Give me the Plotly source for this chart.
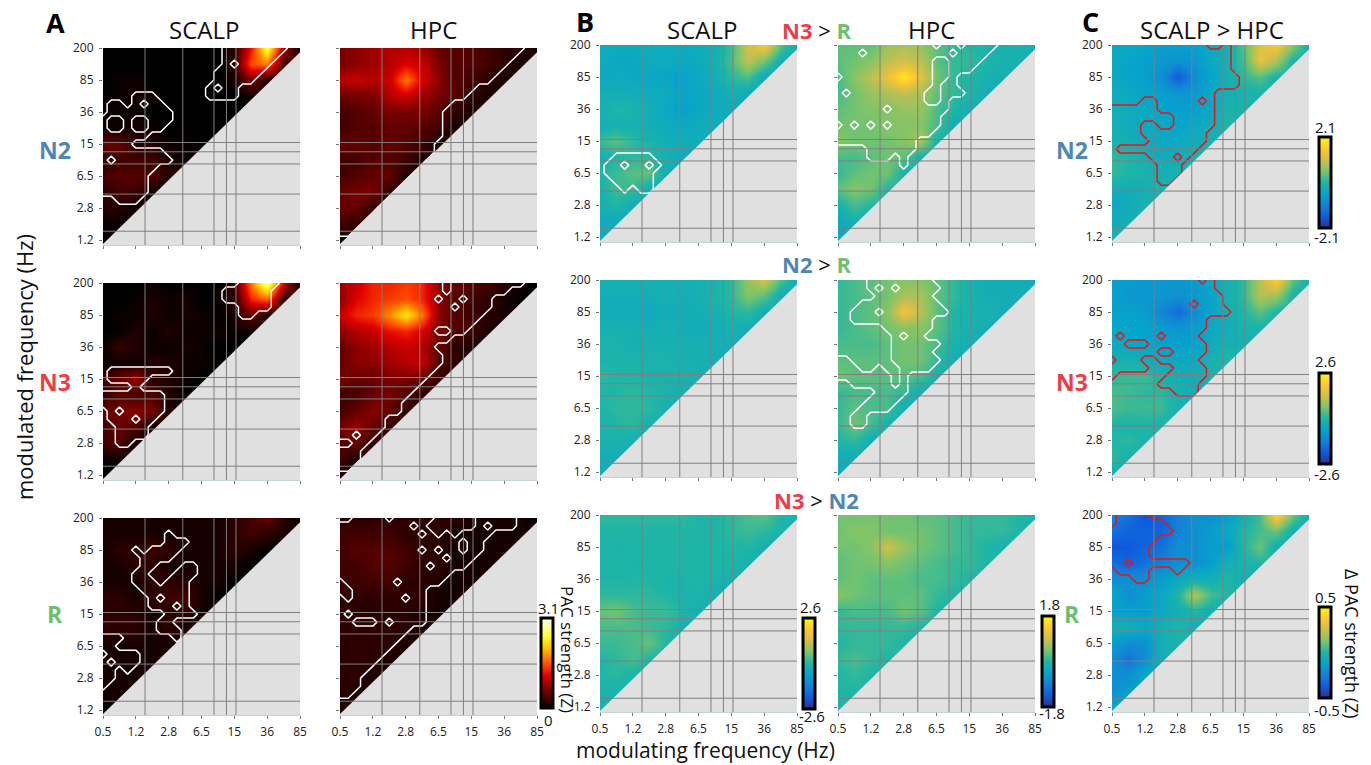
import numpy as np
import plotly.graph_objects as go

# ---------- axis labels ----------
x_tick_labels = ["0.5", "1.2", "2.8", "6.5", "15", "36", "85"]
y_tick_labels = ["1.2", "2.8", "6.5", "15", "36", "85", "200"]
grid_x = [1.28, 2.43, 3.38, 3.76, 4.05]
grid_y = [3.05, 2.76, 2.38, 1.44, 0.28]

# ---------- heat values: rows from top (200 Hz) to bottom, columns every half tick ----------
A_N2_scalp = [
 [0,0,0,0,0,0,0,0,.2,1.2,2.6,.8,0],[0,0,0,0,0,0,0,0,.2,1.5,1.7,.3],[0,.05,.05,0,0,0,0,0,.1,.6,.1],
 [0,.05,.1,.05,0,0,0,0,0,.05],[.05,.05,.05,0,0,0,0,0,0],[.05,.05,.1,.05,0,0,0,0],[.5,.5,.2,.15,.05,.05,0],
 [.2,.3,.3,.3,.15,.05],[.3,.4,.4,.4,.15],[.2,.3,.3,.05],[.15,.15,.05],[.05,.05],[0]]
A_N2_hpc = [
 [.6,.7,.8,.9,.9,.8,.5,.4,.4,.3,.2,.2,.1],[.6,.7,.8,.9,1.1,1,.6,.4,.4,.3,.2,.1],[.9,1,.9,1,1.7,1.1,.7,.4,.3,.2,.1],
 [.5,.6,.6,.9,1,.8,.6,.4,.2,.1],[.3,.4,.5,.6,.6,.6,.4,.2,.1],[.3,.4,.4,.5,.5,.4,.3,.1],[.5,.5,.4,.5,.4,.3,.1],
 [.3,.3,.4,.4,.3,.1],[.3,.4,.5,.5,.1],[.5,.6,.6,.2],[.5,.5,.2],[.3,.2],[.1]]
A_N3_scalp = [
 [0,0,0,.05,0,0,0,0,.3,1.7,2.9,1,0],[0,0,.05,.1,.05,.1,0,.05,.2,1.3,1.6,.2],[0,.05,.05,.15,.05,.1,.05,0,.1,.5,.1],
 [0,0,.15,.05,.15,.05,.05,.05,.05,.05],[.05,.25,.15,.05,.05,.1,.05,0,0],[.05,.05,.05,.15,.15,.05,.05,0],[.3,.5,.8,.2,.15,.05,0],
 [.2,.4,.3,.4,.15,.05],[.5,.6,.7,.6,.1],[.3,.5,.4,.05],[.3,.4,.05],[.05,.05],[0]]
A_N3_hpc = [
 [.8,1,1.3,1.3,1.4,1.3,.7,.5,.4,.3,.2,.1,0],[.7,1.1,1.3,1.4,1.5,1.3,.7,.4,.3,.2,.1,0],[1,1.3,1.4,1.8,2.3,1.7,.7,.4,.3,.2,.1],
 [.7,.9,1,1.2,1.3,1.1,.6,.4,.3,.1],[.5,.7,.8,.9,1,.9,.5,.2,.1],[.5,.7,.7,.8,.9,1,.4,.2],[.6,.5,.5,.6,.6,.5,.2],
 [.3,.3,.5,.6,.4,.2],[.3,.5,.7,.5,.2],[.6,.8,.5,.2],[.4,.5,.2],[.3,.1],[.1]]
A_R_scalp = [
 [.1,.1,.1,.1,.1,.1,.1,.1,.2,.3,.5,.2,0],[.1,.1,.1,.1,.1,.1,.1,.1,.2,.3,.2,.1],[.1,.2,.2,.3,.2,.1,.1,.1,.2,.1,0],
 [.1,.1,.2,.2,.1,.1,.1,.1,.1,0],[.1,.1,.1,.2,.2,.2,.1,.1,0],[.2,.2,.1,.2,.3,.3,.1,0],[.2,.2,.2,.1,.2,.2,.1],
 [.2,.2,.2,.1,.2,.1],[.1,.1,.1,.1,.1],[.1,.1,.1,.1],[.1,.1,.1],[.1,.1],[0]]
A_R_hpc = [
 [.2,.2,.2,.2,.2,.2,.2,.2,.1,.1,.1,.1,0],[.3,.3,.3,.3,.2,.2,.2,.1,.1,.1,.1,.1],[.3,.4,.4,.4,.3,.2,.2,.1,.1,.1,.1],
 [.3,.3,.4,.4,.3,.2,.2,.1,.1,.1],[.3,.3,.3,.3,.2,.2,.1,.1,.1],[.2,.2,.2,.2,.2,.2,.1,.1],[.2,.2,.2,.2,.2,.1,.1],
 [.2,.2,.2,.2,.2,.1],[.2,.2,.2,.2,.1],[.2,.2,.2,.1],[.2,.2,.1],[.2,.1],[.1]]
B_N3R_scalp = [
 [-.4,-.4,-.4,-.4,-.4,-.4,-.4,-.3,.2,1.3,1.9,.4,-.4],[-.4,-.5,-.5,-.4,-.4,-.5,-.4,-.2,.3,1.2,.6,-.3],[-.5,-.4,-.5,-.5,-.6,-.7,-.5,-.3,.1,.3,-.4],
 [-.3,-.3,-.3,-.4,-.4,-.6,-.5,-.4,-.2,-.4],[-.2,0,-.1,-.3,-.5,-.7,-.5,-.4,-.4],[-.3,-.2,-.2,-.3,-.4,-.5,-.4,-.4],[.2,.4,.1,-.1,-.3,-.3,-.4],
 [-.2,0,.1,.1,-.2,-.4],[0,.2,.4,.5,-.3],[-.1,.2,.2,-.3],[-.2,0,-.3],[-.4,-.4],[-.4]]
B_N3R_hpc = [
 [.3,.3,.3,.6,.7,.6,.3,.1,0,-.1,-.1,-.1,-.2],[.3,.4,.5,.8,.9,.8,.3,.1,.1,0,-.1,-.1],[.2,.5,.8,1.1,1.7,1.1,.4,.1,0,-.1,-.2],
 [.2,.4,.6,.7,.8,.7,.3,.1,0,-.2],[.3,.4,.5,.5,.6,.6,.2,0,-.2],[.4,.4,.4,.5,.5,.5,.2,-.2],[.5,.4,.4,.4,.5,.7,-.1],
 [.2,.2,.3,.4,.3,-.1],[.1,.3,.4,.4,-.1],[.3,.5,.4,0],[-.1,.2,0],[-.3,-.1],[-.3]]
B_N2R_scalp = [
 [-.2,-.2,-.2,-.2,-.2,-.2,-.2,-.1,.1,.8,1.4,.3,-.3],[-.3,-.3,-.3,-.3,-.2,-.3,-.2,-.1,.1,.7,.4,-.3],[-.3,-.3,-.3,-.4,-.3,-.3,-.3,-.2,0,.1,-.3],
 [-.2,-.2,-.2,-.3,-.2,-.3,-.3,-.3,-.2,-.3],[-.1,-.1,-.2,-.2,-.2,-.2,-.2,-.2,-.3],[-.1,-.1,-.1,-.1,-.1,-.2,-.2,-.3],[.1,0,0,-.1,-.1,-.1,-.2],
 [0,0,.1,0,-.1,-.2],[0,.1,.1,.1,-.2],[-.1,0,.1,-.2],[-.1,-.1,-.2],[-.3,-.3],[-.3]]
B_N2R_hpc = [
 [.1,.2,.3,.4,.5,.5,.3,.1,-.1,-.2,-.2,-.2,-.3],[.1,.2,.3,.4,.7,.7,.3,.1,-.1,-.2,-.2,-.2],[.1,.2,.3,.5,1.2,.8,.3,0,-.1,-.1,-.2],
 [.1,.2,.3,.4,.5,.5,.3,0,-.1,-.2],[.2,.2,.2,.3,.4,.4,.2,-.1,-.2],[.3,.3,.3,.3,.4,.4,.1,-.2],[.4,.3,.3,.3,.3,.2,-.1],
 [.1,.2,.2,.2,.1,-.2],[.1,.3,.2,.2,-.2],[.1,.4,.2,-.1],[0,.1,-.2],[-.2,-.2],[-.3]]
B_N3N2_scalp = [
 [.1,.1,.1,.1,.1,.1,0,0,.1,.3,.4,0,-.2],[0,0,0,0,0,0,0,0,.1,.2,.1,-.1],[0,-.1,0,0,0,0,0,0,0,0,-.2],
 [0,0,-.1,0,0,0,0,0,0,-.2],[0,0,0,0,-.1,-.1,0,-.1,-.2],[.1,.1,.1,.1,0,-.1,-.1,-.2],[.5,.6,.3,.2,.2,0,-.2],
 [.3,.3,.3,.2,.1,-.2],[.2,.2,.3,.5,0],[0,.1,.3,0],[0,.1,-.1],[-.1,-.1],[-.2]]
B_N3N2_hpc = [
 [.4,.4,.4,.4,.4,.3,.3,.2,.1,.1,.1,0,-.1],[.4,.5,.5,.4,.4,.4,.3,.2,.1,.1,.1,0],[.4,.4,.5,.9,.6,.4,.3,.2,.1,0,-.1],
 [.3,.4,.4,.5,.4,.3,.2,.1,.1,0],[.3,.4,.3,.3,.3,.2,.2,.1,0],[.5,.4,.3,.3,.3,.3,.1,0],[.1,.2,.2,.2,.4,.3,0],
 [.1,.1,.1,.1,.1,0],[0,.1,.1,.1,0],[.1,.2,.1,0],[0,.1,0],[0,0],[0]]
C_N2 = [
 [-.4,-.4,-.5,-.6,-.6,-.6,-.4,-.2,.3,1.2,1.5,.6,-.2],[-.4,-.5,-.6,-.7,-.8,-.7,-.4,-.2,.2,1.3,.8,-.1],[-.4,-.5,-.6,-.8,-1.6,-.9,-.5,-.2,.1,.3,-.1],
 [-.3,-.4,-.5,-.6,-.7,-.7,-.4,-.2,-.1,-.1],[-.2,-.3,-.4,-.5,-.6,-.6,-.4,-.1,-.1],[-.2,-.3,-.4,-.4,-.5,-.4,-.3,0],[-.1,-.2,-.3,-.4,-.4,-.3,-.1],
 [.1,0,-.2,-.3,-.3,-.1],[.1,0,-.1,-.2,-.1],[-.2,-.3,-.2,-.1],[-.4,-.3,-.1],[-.3,-.2],[-.1]]
C_N3 = [
 [-.7,-.8,-.9,-.9,-.9,-.8,-.6,-.2,.1,1.1,2,.4,-.2],[-.7,-.9,-.9,-.9,-1,-.9,-.6,-.2,.1,1.1,.9,-.1],[-.7,-.7,-.8,-1.2,-1.7,-1.1,-.6,-.3,0,.4,-.1],
 [-.6,-.6,-.7,-.8,-.9,-.8,-.5,-.3,-.1,-.1],[-.5,-.5,-.6,-.7,-.7,-.7,-.4,-.2,-.2],[-.2,-.2,-.3,-.5,-.5,-.5,-.2,0],[.1,.2,.2,-.1,-.3,-.3,-.1],
 [.3,.2,.1,.1,-.2,-.3],[.3,.2,.2,.2,-.2],[0,-.1,0,-.1],[0,.1,-.1],[.1,-.1],[-.2]]
C_R = [
 [-.25,-.3,-.4,-.35,-.25,-.2,-.2,-.15,-.05,.05,.4,.1,-.05],[-.3,-.35,-.35,-.35,-.25,-.2,-.15,-.1,0,.05,.1,-.05],[-.4,-.38,-.35,-.3,-.2,-.2,-.15,-.15,0,.1,-.05],
 [-.3,-.35,-.3,-.25,-.2,-.2,-.15,-.05,-.02,0],[-.2,-.2,-.2,-.15,-.1,-.05,-.05,0,-.05],[-.1,-.2,-.15,-.1,0,.2,.05,0],[-.15,-.15,-.15,-.1,-.05,0,-.05],
 [-.05,-.05,-.1,-.05,0,-.05],[-.15,-.2,-.2,-.05,-.02],[-.2,-.3,-.2,-.05],[-.2,-.2,-.1],[-.2,-.15],[-.1]]

# ---------- significance maps: rows from top, columns every quarter tick ----------
sig_A_N2_scalp = ["...............########","...............#######","...............#.####","..............######","..............#####",
 ".............#.##","....###......####",".##.#.##",".########","#..#..###","#..#..##","######","####","########","#.#######","#######",
 "######","######","######","..###"]
sig_A_N2_hpc = ["#"*23,"#"*22,"#"*21,"#"*20,"#"*19,"#"*17,"#"*16,"#"*14,"#"*13,"#"*13,"#"*13,"#"*13,"#"*12,"#"*12,"#"*11,"#"*10,"#"*9,"#"*8,"#"*7,"#"*6,"#"*5,"#"*4,"###","##"]
sig_A_N3_scalp = [".................#####","...............######","...............######",".................####",".................##",
 "","","","","","",".########",".#####","....#","########","########",".#.#####",".###.##","..####","..####","..##"]
sig_A_N3_hpc = ["#############.#########","#############.#######","############.##.###","##############.####","#"*18,"#"*17,"############..##","#"*14,"#"*12,"#"*13,"#"*13,
 "#"*12,"#"*11,"#"*10,"#"*9,"#"*8,"#"*8,"#"*6,"#"*6,"##.##","..##","###","###","##"]
sig_A_R_scalp = ["","","........#","........###","....#.####",".....####",".....##...##","....##...###","....###.###",".....######","......#.###",
 "......###.#","........####",".......##",".......###","###......#","##",".####","#.###","##.#","##","#"]
sig_A_R_hpc = ["..####.#####.....#####","#########.#......#.###","##########.#.#.####","###############.##","##########.#.##.##","#############.###","###########.####",
 "##############",".######.#####","..#########","#.######.##","###########","#.#########","##...#.####","#########","########","#######","######","#####","####","###","###","##","."]
sig_B_N3R_scalp = [""]*14 + ["..#####",".##.##.#",".######","..#####","...#.##"]
sig_B_N3R_hpc = ["############.##.####","###.##########.####","############..####","############..###",".###########..#","############.##","#.#########..###","###########..#",
 "######.#######","#############",".#.#.#.######","############","##########","....######","....###.#","........#"]
sig_B_N2R_hpc = ["....########","....#.#.#####",".....#######","...##########","..###.########","..##########","......######",".......#.##",".......######",
 ".......#####","##.....######","###..#..####","#######.#","..#####.#",".....####","....####","...####","..##","..##"]
sig_C_N2 = ["############..#","###############","###############","###############","################","################","#############","####..#####.#",
 "......#######","........#####","....##..#####","....########",".....#######",".##########",".....###.#","......###","......###","......##"]
sig_C_N3 = ["###########.#","#############","##############","##########.###","###############","############","############","#.####.####","##...#######",
 "######..####",".###..#####","#####...####","#......#####","......#####","........###"]
sig_C_R = [".####",".######","########","######","#####","#####","##.#######",".####...#","...##"]

hot = [[0,"#000000"],[.04,"#1c0000"],[.1,"#420000"],[.2,"#7a0000"],[.36,"#e00000"],[.48,"#ff4a00"],[.66,"#ffc000"],[.8,"#ffff30"],[1,"#ffffff"]]
parula = [[0,"#352a87"],[.125,"#0f5cdd"],[.25,"#1481d6"],[.375,"#06a4ca"],[.5,"#1fb5a6"],[.625,"#7cc46a"],[.75,"#d1bf4a"],[.875,"#fec832"],[1,"#f9fb0e"]]

W, H = 1371, 765
BOX_W, BOX_H = 197, 197
cols = {"a1":103,"a2":340,"b1":600,"b2":838,"c":1112}
tops_a = [48,283,518]
tops_b = [45,280,515]

# panel: column, row, values, zmax, scale, sig, sig colour, colorbar (x, y top, len)
panels = [
 ("a1",0,A_N2_scalp,3.1,hot,sig_A_N2_scalp,"white",None),
 ("a2",0,A_N2_hpc,3.1,hot,sig_A_N2_hpc,"white",None),
 ("a1",1,A_N3_scalp,3.1,hot,sig_A_N3_scalp,"white",None),
 ("a2",1,A_N3_hpc,3.1,hot,sig_A_N3_hpc,"white",None),
 ("a1",2,A_R_scalp,3.1,hot,sig_A_R_scalp,"white",None),
 ("a2",2,A_R_hpc,3.1,hot,sig_A_R_hpc,"white",(541,618,90)),
 ("b1",0,B_N3R_scalp,2.6,parula,sig_B_N3R_scalp,"white",None),
 ("b2",0,B_N3R_hpc,1.8,parula,sig_B_N3R_hpc,"white",None),
 ("b1",1,B_N2R_scalp,2.6,parula,None,"white",None),
 ("b2",1,B_N2R_hpc,1.8,parula,sig_B_N2R_hpc,"white",None),
 ("b1",2,B_N3N2_scalp,2.6,parula,None,"white",(803,618,91)),
 ("b2",2,B_N3N2_hpc,1.8,parula,None,"white",(1042,616,91)),
 ("c",0,C_N2,2.1,parula,sig_C_N2,"#e8141c",(1319,137,91)),
 ("c",1,C_N3,2.6,parula,sig_C_N3,"#e8141c",(1319,373,91)),
 ("c",2,C_R,0.5,parula,sig_C_R,"#e8141c",(1319,607,91)),
]

fig = go.Figure()
layout = dict(width=W, height=H, autosize=False, margin=dict(l=0,r=0,t=0,b=0,autoexpand=False),
              paper_bgcolor="white", plot_bgcolor="#e0e0e0", showlegend=False)
shapes, ann = [], []
FONT = "Open Sans"

def text(x, y, t, size, color="#111", angle=0, anchor="center"):
    ann.append(dict(x=x/W, y=1-y/H, xref="paper", yref="paper", text=t, showarrow=False, xanchor=anchor, yanchor="middle",
                    textangle=angle, borderpad=0, font=dict(family=FONT, size=size, color=color)))

for n, (col, row, vals, zmax, scale, sig, sigc, cbar) in enumerate(panels, start=1):
    left = cols[col]
    top = (tops_a if col.startswith("a") else tops_b)[row]
    xa, ya = f"x{n}", f"y{n}"
    layout[f"xaxis{n}"] = dict(domain=[left/W,(left+BOX_W)/W], range=[0,6], anchor=ya, tickmode="array", tickvals=list(range(7)),
        ticktext=x_tick_labels, showticklabels=row==2, ticks="outside", ticklen=3, tickcolor="#777", showgrid=False, zeroline=False,
        showline=True, linecolor="#c4d4d4", linewidth=1, ticklabelstandoff=3, tickfont=dict(family=FONT,size=12,color="#222"))
    layout[f"yaxis{n}"] = dict(domain=[1-(top+BOX_H)/H,1-top/H], range=[-0.15,6], anchor=xa, tickmode="array", tickvals=list(range(7)),
        ticktext=y_tick_labels, showticklabels=col in("a1","b1","c"), ticks="outside", ticklen=3, tickcolor="#777", showgrid=False, zeroline=False,
        showline=False, ticklabelstandoff=3, tickfont=dict(family=FONT,size=12,color="#222"))
    z = np.array([list(r)+[r[-1]]*(13-len(r)) for r in vals], dtype=float)
    trace = dict(x=np.arange(13)/2, y=(np.arange(13)/2), z=z[::-1], zmin=0 if scale is hot else -zmax, zmax=zmax, colorscale=scale,
                 zsmooth="best", xaxis=xa, yaxis=ya, showscale=cbar is not None, hoverinfo="skip")
    if cbar:
        cx, cy, cl = cbar
        trace["colorbar"] = dict(x=cx/W, xanchor="left", y=1-cy/H, yanchor="top", lenmode="pixels", len=cl, thicknessmode="pixels", thickness=12,
                                 xpad=0, ypad=0, outlinecolor="black", outlinewidth=3, showticklabels=False, ticks="", borderwidth=0)
    fig.add_trace(go.Heatmap(**trace))
    if sig:
        m = np.zeros((25,25))
        for r, s in enumerate(sig):
            for c, ch in enumerate(s):
                if ch == "#":
                    m[r,c] = 1
        fig.add_trace(go.Contour(x=np.arange(25)/4, y=np.arange(25)/4, z=m[::-1], xaxis=xa, yaxis=ya, showscale=False, hoverinfo="skip",
                                 autocontour=False, contours=dict(start=.5,end=.5,size=1,coloring="none"), line=dict(color=sigc,width=1.5,smoothing=0)))
    shapes.append(dict(type="path", xref=xa, yref=ya, path="M 0 -0.12 L 6 5.87 L 6 -0.15 L 0 -0.15 Z", fillcolor="#e0e0e0", line=dict(width=0), layer="above"))
    for g in grid_x:
        shapes.append(dict(type="line", xref=xa, yref=ya, x0=g, x1=g, y0=-0.15, y1=6, line=dict(color="#7f7f7f",width=1), layer="above"))
    for g in grid_y:
        shapes.append(dict(type="line", xref=xa, yref=ya, x0=0, x1=6, y0=g, y1=g, line=dict(color="#7f7f7f",width=1), layer="above"))

RED, BLUE, GREEN = "#ee3e45", "#4f86b4", "#6fbf6f"
for x, y, t in [(204,30,"SCALP"),(433,30,"HPC"),(702,30,"SCALP"),(931,30,"HPC"),(1212,30,"SCALP &gt; HPC")]:
    text(x,y,t,24)
for x, y, t in [(55,22,"A"),(585,21,"B"),(1090,21,"C")]:
    text(x,y,f"<b>{t}</b>",27,"#000")
def cmp(a,ca,b,cb):
    return f'<b><span style="color:{ca}">{a}</span></b> &gt; <b><span style="color:{cb}">{b}</span></b>'
text(817,30,cmp("N3",RED,"R",GREEN),22)
text(817,264,cmp("N2",BLUE,"R",GREEN),22)
text(817,500,cmp("N3",RED,"N2",BLUE),22)
for x in (55,1072):
    text(x,150,"<b>N2</b>",23,BLUE); text(x,382,"<b>N3</b>",23,RED)
text(55,614,"<b>R</b>",23,GREEN); text(1072,614,"<b>R</b>",23,GREEN)
text(24,367,"modulated frequency (Hz)",22,angle=-90)
text(705,750,"modulating frequency (Hz)",21)
text(568,649,"PAC strength (Z)",17,angle=90)
text(1352,644,"Δ PAC strength (Z)",18,angle=90)
for x,y,t in [(548,608,"3.1"),(548,720,"0"),(810,607,"2.6"),(812,716,"-2.6"),(1049,604,"1.8"),(1052,713,"-1.8"),
              (1325,127,"2.1"),(1327,237,"-2.1"),(1325,361,"2.6"),(1327,474,"-2.6"),(1325,597,"0.5"),(1327,710,"-0.5")]:
    text(x,y,t,15)

layout["shapes"] = shapes
layout["annotations"] = ann
fig.update_layout(**layout)
fig.write_html("out.html", config=dict(displayModeBar=False), post_script="document.body.style.margin='0';document.body.style.overflow='hidden';")
